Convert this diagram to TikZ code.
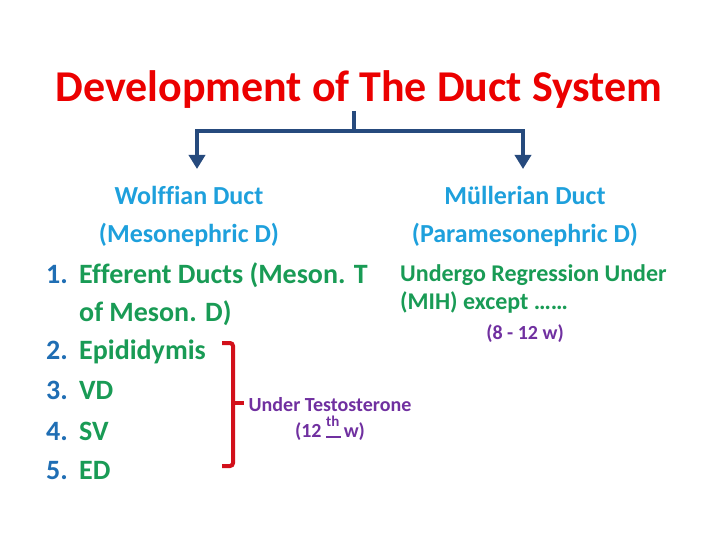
\documentclass[tikz,border=0pt]{standalone}
\usepackage{fontspec}
\setmainfont{Carlito}[Ligatures=NoCommon]
\usetikzlibrary{arrows.meta}
\definecolor{titlered}{RGB}{235,0,0}
\definecolor{headblue}{RGB}{30,160,220}
\definecolor{numblue}{RGB}{31,110,180}
\definecolor{itemgreen}{RGB}{25,155,85}
\definecolor{notepurple}{RGB}{112,48,160}
\definecolor{bracketred}{RGB}{210,16,26}
\definecolor{linkblue}{RGB}{38,74,125}
\newcommand{\thmark}{\makebox[0pt][l]{\rule[-1pt]{0.75em}{2pt}}\raisebox{0.55em}{\fontsize{15}{15}\selectfont th}}
\tikzset{
  txt/.style={inner sep=0pt, font=\bfseries},
  titletxt/.style={txt, text=titlered, font=\bfseries\fontsize{44}{50}\selectfont},
  headtxt/.style={txt, anchor=base, text=headblue, font=\bfseries\fontsize{26}{30}\selectfont},
  numtxt/.style={txt, anchor=base west, text=numblue, font=\bfseries\fontsize{28}{32}\selectfont},
  itemtxt/.style={txt, anchor=base west, text=itemgreen, font=\bfseries\fontsize{28}{32}\selectfont},
  regtxt/.style={txt, anchor=base west, text=itemgreen, font=\bfseries\fontsize{24}{28}\selectfont},
  notetxt/.style={txt, anchor=base, text=notepurple, font=\bfseries\fontsize{20}{24}\selectfont},
  link/.style={draw=linkblue, line width=3.5pt},
  linkarrow/.style={link, -{Triangle[width=16pt,length=14pt]}},
  bracket/.style={draw=bracketred, line width=4pt, rounded corners=3pt}
}
\begin{document}
\begin{tikzpicture}[x=1pt,y=-1pt]
\useasboundingbox (0,0) rectangle (720,540);
% title
\node[titletxt, anchor=base] (title) at (359,102) {Development of The Duct System};
% connector
\coordinate (top) at (354,111);
\coordinate (j) at (354,131);
\coordinate (wl) at (197,131);
\coordinate (ml) at (523,131);
\coordinate (wtip) at (197,169);
\coordinate (mtip) at (523,169);
\draw[link] (top) -- (j);
\draw[link, line cap=rect] (wl) -- (ml);
\draw[linkarrow] (wl) -- (wtip);
\draw[linkarrow] (ml) -- (mtip);
% headings
\node[headtxt] (wolff) at (189,205) {Wolffian Duct};
\node[headtxt] (meso) at (189,243) {(Mesonephric D)};
\node[headtxt] (mull) at (525,205) {Müllerian Duct};
\node[headtxt] (parameso) at (525,243) {(Paramesonephric D)};
% list
\node[numtxt] (n1) at (46,283) {1.};
\node[itemtxt] (t1) at (79,283) {Efferent Ducts (Meson. T};
\node[itemtxt] (t1b) at (79,321) {of Meson. D)};
\node[numtxt] (n2) at (46,359) {2.};
\node[itemtxt] (t2) at (79,359) {Epididymis};
\node[numtxt] (n3) at (46,399) {3.};
\node[itemtxt] (t3) at (79,399) {VD};
\node[numtxt] (n4) at (46,440) {4.};
\node[itemtxt] (t4) at (79,440) {SV};
\node[numtxt] (n5) at (46,479) {5.};
\node[itemtxt] (t5) at (79,479) {ED};
% regression
\node[regtxt] (reg1) at (400,281) {Undergo Regression Under};
\node[regtxt] (reg2) at (400,309) {(MIH) except ……};
\node[notetxt] (wk1) at (525,339) {(8 - 12 w)};
% bracket
\coordinate (bt0) at (222,343);
\coordinate (bt1) at (233,343);
\coordinate (bb1) at (233,466);
\coordinate (bb0) at (222,466);
\coordinate (bm0) at (233,403);
\coordinate (bm1) at (244,403);
\draw[bracket] (bt0) -- (bt1) -- (bb1) -- (bb0);
\draw[bracket, rounded corners=0pt] (bm0) -- (bm1);
\node[notetxt] (testo) at (330,411) {Under Testosterone};
\node[notetxt] (wk2) at (330,437) {(12 \thmark{} w)};
\end{tikzpicture}
\end{document}
